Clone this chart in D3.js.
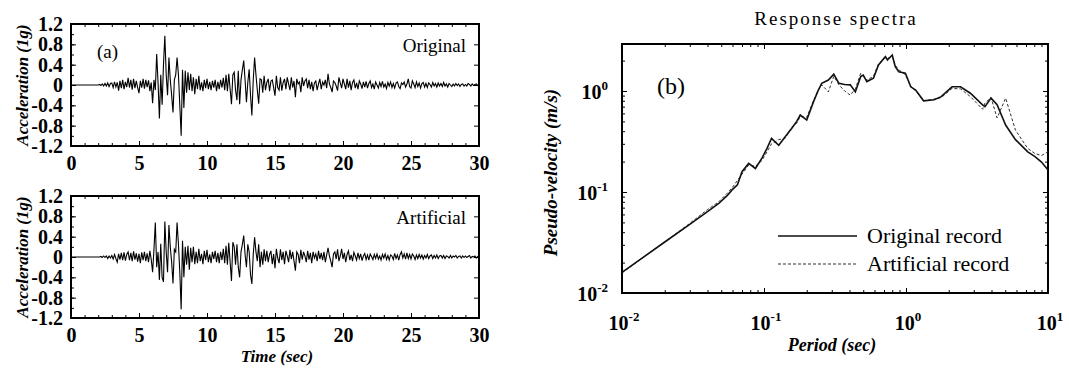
<!DOCTYPE html>
<html>
<head>
<meta charset="utf-8">
<script src="https://cdn.jsdelivr.net/npm/d3@7"></script>
<style>
	body { margin: 0; background: #fff; }
	svg { display: block; }
</style>
</head>
<body>
<div id="chart"></div>
<script>
// ground acceleration (g), sampled every 0.1 s from 0 to 30 s
const timeStep = 0.1;

const originalAcc = [
	0, 0, 0, 0, 0, 0, 0, 0, 0, 0,
	0, 0, 0, 0, 0, 0, 0, 0, 0, 0,
	0, 0.01, -0.01, 0.02, -0.02, 0.03, -0.02, 0.04, -0.03, 0.03,
	0.04, -0.05, 0.06, -0.04, 0.05, -0.11, 0.08, -0.06, 0.10, -0.08,
	0.06, -0.04, 0.14, -0.05, 0.10, -0.09, 0.12, -0.06, 0.08, -0.05,
	-0.16, 0.08, -0.05, 0.12, -0.07, 0.10, -0.04, 0.09, -0.12, 0.05,
	-0.36, 0.10, -0.10, 0.61, 0.05, -0.66, 0.20, -0.39, 0.40, 0.97,
	0.20, -0.20, 0.54, 0.10, -0.20, -0.54, 0.10, 0.20, 0.54, 0.20,
	-0.40, -1.00, 0.30, -0.45, 0.28, -0.15, 0.25, -0.10, 0.22, -0.12,
	0.15, -0.18, 0.12, -0.08, 0.18, -0.10, 0.05, -0.12, 0.10, -0.06,
	0.12, -0.08, 0.06, -0.10, 0.08, -0.05, 0.10, -0.12, 0.06, -0.08,
	0.10, -0.05, 0.14, -0.10, 0.20, -0.12, 0.22, -0.08, -0.38, 0.20,
	0.25, -0.10, -0.30, 0.28, -0.38, 0.10, 0.30, 0.48, 0.10, -0.34,
	0.05, 0.31, -0.20, -0.60, 0.10, 0.54, 0.20, -0.10, -0.37, 0.12,
	0.10, -0.15, 0.18, -0.10, 0.05, 0.12, -0.12, 0.08, 0.10, -0.05,
	-0.21, 0.18, -0.05, -0.10, 0.15, -0.11, 0.05, 0.12, -0.08, 0.15,
	0.02, -0.10, 0.15, -0.05, 0.08, -0.24, 0.12, 0.02, 0.06, -0.14,
	0.15, -0.02, 0.08, 0.12, -0.06, 0.10, -0.08, 0.06, -0.12, 0.04,
	0.08, -0.10, 0.02, 0.12, -0.08, 0.06, 0.00, 0.10, -0.06, 0.22,
	0.02, -0.05, -0.14, 0.08, 0.05, -0.02, -0.11, 0.15, 0.04, -0.06,
	0.12, 0.02, -0.08, 0.12, -0.05, 0.08, -0.10, 0.05, 0.10, -0.06,
	0.04, -0.08, 0.08, 0.02, -0.07, 0.06, -0.04, 0.07, -0.06, 0.03,
	0.08, -0.05, 0.02, -0.08, 0.06, 0.00, -0.06, 0.05, -0.03, 0.07,
	-0.04, 0.02, -0.07, 0.05, -0.02, 0.06, -0.05, 0.03, -0.06, 0.04,
	0.06, -0.03, -0.07, 0.04, 0.01, 0.06, -0.04, 0.02, 0.12, -0.03,
	-0.06, 0.08, 0.02, -0.05, 0.06, -0.03, 0.04, -0.06, 0.03, 0.05,
	-0.04, 0.03, -0.05, 0.04, 0.01, -0.04, 0.05, -0.02, 0.03, -0.04,
	0.04, -0.02, 0.03, -0.03, 0.05, -0.02, 0.02, -0.04, 0.03, 0.00,
	-0.03, 0.02, -0.02, 0.03, -0.01, 0.02, -0.03, 0.01, 0.02, -0.02,
	0.01, -0.02, 0.03, 0.01, -0.02, 0.02, -0.01, 0.01, 0.02, -0.01,
	0.02
];

const artificialAcc = [
	0, 0, 0, 0, 0, 0, 0, 0, 0, 0,
	0, 0, 0, 0, 0, 0, 0, 0, 0, 0,
	0, 0, 0.01, -0.01, 0.02, -0.01, 0.02, -0.03, 0.02, -0.02,
	0.03, -0.04, 0.05, -0.03, -0.10, 0.06, -0.05, 0.08, -0.06, 0.09,
	-0.07, 0.05, 0.10, -0.06, 0.08, -0.08, 0.11, -0.05, 0.07, -0.09,
	0.06, -0.12, 0.09, -0.06, 0.10, -0.08, 0.07, -0.10, 0.12, -0.05,
	-0.30, 0.15, 0.68, -0.20, 0.10, -0.45, 0.26, -0.40, -0.49, 0.70,
	0.10, -0.30, 0.63, 0.20, -0.10, -0.52, 0.15, 0.10, 0.68, 0.25,
	-0.30, -1.03, 0.32, -0.40, 0.20, -0.15, 0.22, -0.25, 0.18, -0.10,
	0.20, -0.14, 0.10, -0.12, 0.16, -0.08, 0.06, -0.14, 0.12, -0.06,
	0.14, -0.10, 0.05, -0.12, 0.10, -0.04, 0.12, -0.10, 0.08, -0.12,
	0.10, -0.06, 0.16, -0.12, 0.22, -0.15, 0.28, -0.10, -0.47, 0.29,
	0.20, -0.15, 0.25, -0.20, -0.40, 0.10, 0.25, 0.42, 0.05, -0.20,
	0.25, 0.10, -0.35, -0.53, 0.05, 0.39, 0.10, -0.08, 0.25, -0.20,
	0.10, -0.15, 0.15, -0.08, 0.12, -0.10, 0.05, 0.12, -0.14, 0.06,
	-0.22, 0.16, -0.02, -0.12, 0.15, -0.06, 0.10, -0.14, 0.12, 0.02,
	-0.10, 0.14, -0.04, 0.10, -0.08, -0.27, 0.10, 0.05, -0.12, 0.14,
	-0.05, 0.10, 0.02, -0.10, 0.12, -0.05, 0.08, -0.12, 0.10, -0.02,
	0.06, -0.08, 0.12, -0.04, 0.08, -0.06, 0.10, -0.10, 0.04, 0.18,
	0.02, -0.08, -0.20, 0.06, 0.10, -0.04, 0.15, -0.08, 0.02, 0.16,
	-0.04, 0.08, -0.10, 0.05, 0.12, -0.06, 0.04, -0.08, 0.09, 0.02,
	-0.06, 0.08, -0.03, 0.06, -0.07, 0.02, 0.07, -0.05, 0.04, -0.06,
	0.06, 0.01, -0.05, 0.05, -0.03, 0.06, -0.04, 0.02, -0.06, 0.05,
	-0.02, 0.06, -0.05, 0.03, -0.06, 0.04, 0.02, -0.05, 0.07, -0.03,
	0.04, -0.06, 0.05, 0.10, -0.02, 0.06, -0.04, 0.08, -0.03, 0.05,
	-0.04, 0.06, 0.02, -0.05, 0.04, -0.03, 0.05, -0.02, 0.04, -0.04,
	0.03, -0.02, 0.05, -0.03, 0.02, 0.04, -0.03, 0.03, -0.02, 0.04,
	-0.03, 0.02, 0.03, -0.02, 0.03, -0.03, 0.02, 0.01, -0.02, 0.03,
	-0.02, 0.02, 0.00, 0.03, -0.02, 0.01, 0.02, -0.02, 0.02, -0.01,
	0.02, -0.01, 0.01, 0.03, -0.02, 0.01, 0.00, 0.02, -0.02, 0.01,
	0.02
];

const accTicks = [-1.2, -0.8, -0.4, 0, 0.4, 0.8, 1.2];
const timeTicks = [0, 5, 10, 15, 20, 25, 30];

// response spectra: period (s) vs pseudo-velocity (m/s)
const periods = [
	0.01, 0.02, 0.0295, 0.04, 0.048, 0.055, 0.0596, 0.065, 0.07, 0.078,
	0.087, 0.0967, 0.105, 0.113, 0.127, 0.141, 0.157, 0.17, 0.18, 0.2,
	0.223, 0.24, 0.255, 0.284, 0.31, 0.337, 0.37, 0.405, 0.44, 0.48,
	0.5, 0.53, 0.59, 0.64, 0.716, 0.74, 0.8, 0.84, 0.89, 0.99,
	1.08, 1.17, 1.33, 1.58, 1.77, 2.11, 2.42, 2.84, 3.46, 3.6,
	3.97, 4.38, 5.03, 5.9, 7.2, 8.1, 9.0, 10
];
const originalPsv = [
	0.016, 0.032, 0.047, 0.064, 0.077, 0.092, 0.105, 0.118, 0.159, 0.192,
	0.171, 0.216, 0.27, 0.34, 0.29, 0.353, 0.427, 0.5, 0.578, 0.516,
	0.78, 1.0, 1.19, 1.285, 1.47, 1.19, 1.16, 1.15, 0.98, 1.39,
	1.44, 1.24, 1.34, 1.81, 2.19, 2.03, 2.27, 1.74, 1.55, 1.5,
	1.1, 1.02, 0.8, 0.82, 0.88, 1.1, 1.1, 0.95, 0.73, 0.7,
	0.85, 0.73, 0.46, 0.33, 0.25, 0.224, 0.198, 0.165
];
const artificialPsv = [
	0.0158, 0.032, 0.048, 0.067, 0.08, 0.097, 0.11, 0.13, 0.15, 0.185,
	0.18, 0.205, 0.25, 0.3, 0.33, 0.34, 0.44, 0.48, 0.56, 0.55,
	0.8, 1.02, 1.15, 0.98, 1.4, 1.15, 1.0, 0.91, 1.05, 1.5,
	1.4, 1.28, 1.4, 1.85, 2.15, 2.1, 2.2, 1.8, 1.62, 1.45,
	1.12, 1.0, 0.8, 0.83, 0.86, 1.06, 1.05, 0.88, 0.66, 0.76,
	0.86, 0.54, 0.85, 0.41, 0.27, 0.24, 0.23, 0.25
];
const periodDecades = [0.01, 0.1, 1, 10];
const psvDecades = [0.01, 0.1, 1];
const legendLabels = ['Original record', 'Artificial record'];

const serif = '"Liberation Serif", "Times New Roman", serif';

const svg = d3
	.select('#chart')
	.append('svg')
	.attr('width', 1069)
	.attr('height', 374)
	.style('font-family', serif);

function styleTicks(g) {
	g.select('.domain').remove();
	g.selectAll('line').attr('stroke', '#000').attr('stroke-width', 1);
	g.selectAll('text')
		.attr('fill', '#000')
		.style('font-family', serif)
		.style('font-weight', 'bold')
		.style('font-size', '20px');
}

function drawAccPanel(values, top, bottom, tag, name) {
	const left = 71;
	const right = 479;
	const x = d3.scaleLinear().domain([0, 30]).range([left, right]);
	const y = d3.scaleLinear().domain([-1.2, 1.2]).range([bottom, top]);
	const g = svg.append('g');

	// minor ticks every second / 0.2 g
	g.append('g')
		.attr('transform', `translate(0,${bottom})`)
		.call(d3.axisBottom(x).tickValues(d3.range(0, 31, 1)).tickSize(-3).tickFormat(''))
		.call(styleTicks);
	g.append('g')
		.attr('transform', `translate(0,${top})`)
		.call(d3.axisTop(x).tickValues(d3.range(0, 31, 1)).tickSize(-3).tickFormat(''))
		.call(styleTicks);
	g.append('g')
		.attr('transform', `translate(${left},0)`)
		.call(d3.axisLeft(y).tickValues(d3.range(-12, 13, 2).map((d) => d / 10)).tickSize(-3).tickFormat(''))
		.call(styleTicks);

	g.append('g')
		.attr('transform', `translate(0,${bottom})`)
		.call(d3.axisBottom(x).tickValues(timeTicks).tickSize(-5).tickPadding(10).tickFormat((d) => String(d)))
		.call(styleTicks);
	g.append('g')
		.attr('transform', `translate(${left},0)`)
		.call(d3.axisLeft(y).tickValues(accTicks).tickSize(-5).tickPadding(8).tickFormat((d) => String(d)))
		.call(styleTicks);
	g.append('g')
		.attr('transform', `translate(${right},0)`)
		.call(d3.axisRight(y).tickValues(accTicks).tickSize(-5).tickFormat(''))
		.call(styleTicks);

	g.append('rect')
		.attr('x', left)
		.attr('y', top)
		.attr('width', right - left)
		.attr('height', bottom - top)
		.attr('fill', 'none')
		.attr('stroke', '#000')
		.attr('stroke-width', 2);

	const line = d3
		.line()
		.x((d, i) => x(i * timeStep))
		.y((d) => y(d));

	g.append('path')
		.datum(values)
		.attr('d', line)
		.attr('fill', 'none')
		.attr('stroke', '#000')
		.attr('stroke-width', 1.1);

	g.append('text')
		.attr('transform', `translate(28,${(top + bottom) / 2}) rotate(-90)`)
		.attr('text-anchor', 'middle')
		.style('font-weight', 'bold')
		.style('font-style', 'italic')
		.style('font-size', '17px')
		.text('Acceleration (1g)');

	if (tag) {
		g.append('text').attr('x', 97).attr('y', top + 34).style('font-size', '19px').text(tag);
	}
	g.append('text')
		.attr('x', 466)
		.attr('y', top + 28)
		.attr('text-anchor', 'end')
		.style('font-size', '19px')
		.text(name);
}

drawAccPanel(originalAcc, 24, 146, '(a)', 'Original');
drawAccPanel(artificialAcc, 196, 318, null, 'Artificial');

svg.append('text')
	.attr('x', 277)
	.attr('y', 362)
	.attr('text-anchor', 'middle')
	.style('font-weight', 'bold')
	.style('font-style', 'italic')
	.style('font-size', '17px')
	.text('Time (sec)');

// ---- response spectra ----
const bLeft = 622;
const bRight = 1048;
const bTop = 44;
const bBottom = 293;

const px = d3.scaleLog().domain([0.01, 10]).range([bLeft, bRight]);
const py = d3.scaleLog().domain([0.01, 2.92]).range([bBottom, bTop]);

const minorOf = (decades, max) =>
	decades.flatMap((d) => d3.range(2, 10).map((k) => k * d)).filter((v) => v < max);

const pg = svg.append('g');

pg.append('g')
	.attr('transform', `translate(0,${bBottom})`)
	.call(d3.axisBottom(px).tickValues(minorOf(periodDecades, 10)).tickSize(-3).tickFormat(''))
	.call(styleTicks);
pg.append('g')
	.attr('transform', `translate(0,${bTop})`)
	.call(d3.axisTop(px).tickValues(minorOf(periodDecades, 10)).tickSize(-3).tickFormat(''))
	.call(styleTicks);
pg.append('g')
	.attr('transform', `translate(0,${bBottom})`)
	.call(d3.axisBottom(px).tickValues(periodDecades).tickSize(-5).tickFormat(''))
	.call(styleTicks);
pg.append('g')
	.attr('transform', `translate(0,${bTop})`)
	.call(d3.axisTop(px).tickValues(periodDecades).tickSize(-5).tickFormat(''))
	.call(styleTicks);
pg.append('g')
	.attr('transform', `translate(${bLeft},0)`)
	.call(d3.axisLeft(py).tickValues(minorOf(psvDecades, 2.92)).tickSize(-3).tickFormat(''))
	.call(styleTicks);
pg.append('g')
	.attr('transform', `translate(${bRight},0)`)
	.call(d3.axisRight(py).tickValues(minorOf(psvDecades, 2.92)).tickSize(-3).tickFormat(''))
	.call(styleTicks);
pg.append('g')
	.attr('transform', `translate(${bLeft},0)`)
	.call(d3.axisLeft(py).tickValues(psvDecades).tickSize(-5).tickFormat(''))
	.call(styleTicks);
pg.append('g')
	.attr('transform', `translate(${bRight},0)`)
	.call(d3.axisRight(py).tickValues(psvDecades).tickSize(-5).tickFormat(''))
	.call(styleTicks);

pg.append('rect')
	.attr('x', bLeft)
	.attr('y', bTop)
	.attr('width', bRight - bLeft)
	.attr('height', bBottom - bTop)
	.attr('fill', 'none')
	.attr('stroke', '#000')
	.attr('stroke-width', 2);

// power-of-ten labels
function powerLabel(sel, d) {
	const exp = Math.round(Math.log10(d));
	sel.append('tspan').text('10');
	sel.append('tspan').attr('dy', -9).style('font-size', '13px').text(String(exp));
}

pg.selectAll('.xlab')
	.data(periodDecades)
	.enter()
	.append('text')
	.attr('class', 'xlab')
	.attr('x', (d) => px(d) + 2)
	.attr('y', 330)
	.attr('text-anchor', 'middle')
	.style('font-weight', 'bold')
	.style('font-size', '20px')
	.each(function (d) {
		powerLabel(d3.select(this), d);
	});

pg.selectAll('.ylab')
	.data(psvDecades)
	.enter()
	.append('text')
	.attr('class', 'ylab')
	.attr('x', bLeft - 14)
	.attr('y', (d) => py(d) + 8)
	.attr('text-anchor', 'end')
	.style('font-weight', 'bold')
	.style('font-size', '20px')
	.each(function (d) {
		powerLabel(d3.select(this), d);
	});

const specLine = (vals) =>
	d3
		.line()
		.x((d, i) => px(periods[i]))
		.y((d) => py(d))(vals);

pg.append('path')
	.attr('d', specLine(artificialPsv))
	.attr('fill', 'none')
	.attr('stroke', '#333')
	.attr('stroke-width', 1)
	.attr('stroke-dasharray', '3,2');

pg.append('path')
	.attr('d', specLine(originalPsv))
	.attr('fill', 'none')
	.attr('stroke', '#111')
	.attr('stroke-width', 1.6);

// legend
const legendY = [236, 264];
legendLabels.forEach((label, i) => {
	pg.append('line')
		.attr('x1', 778)
		.attr('x2', 857)
		.attr('y1', legendY[i])
		.attr('y2', legendY[i])
		.attr('stroke', i === 0 ? '#111' : '#333')
		.attr('stroke-width', i === 0 ? 1.4 : 1)
		.attr('stroke-dasharray', i === 0 ? null : '3,2');
	pg.append('text')
		.attr('x', 867)
		.attr('y', legendY[i] + 7)
		.style('font-size', '22px')
		.text(label);
});

pg.append('text').attr('x', 657).attr('y', 94).style('font-size', '24px').text('(b)');

svg.append('text')
	.attr('x', 836)
	.attr('y', 25)
	.attr('text-anchor', 'middle')
	.style('font-size', '19px')
	.style('letter-spacing', '2px')
	.text('Response spectra');

svg.append('text')
	.attr('x', 832)
	.attr('y', 351)
	.attr('text-anchor', 'middle')
	.style('font-weight', 'bold')
	.style('font-style', 'italic')
	.style('font-size', '18px')
	.text('Period (sec)');

svg.append('text')
	.attr('transform', `translate(557,${(bTop + bBottom) / 2 + 4}) rotate(-90)`)
	.attr('text-anchor', 'middle')
	.style('font-weight', 'bold')
	.style('font-style', 'italic')
	.style('font-size', '19px')
	.text('Pseudo-velocity (m/s)');
</script>
</body>
</html>
